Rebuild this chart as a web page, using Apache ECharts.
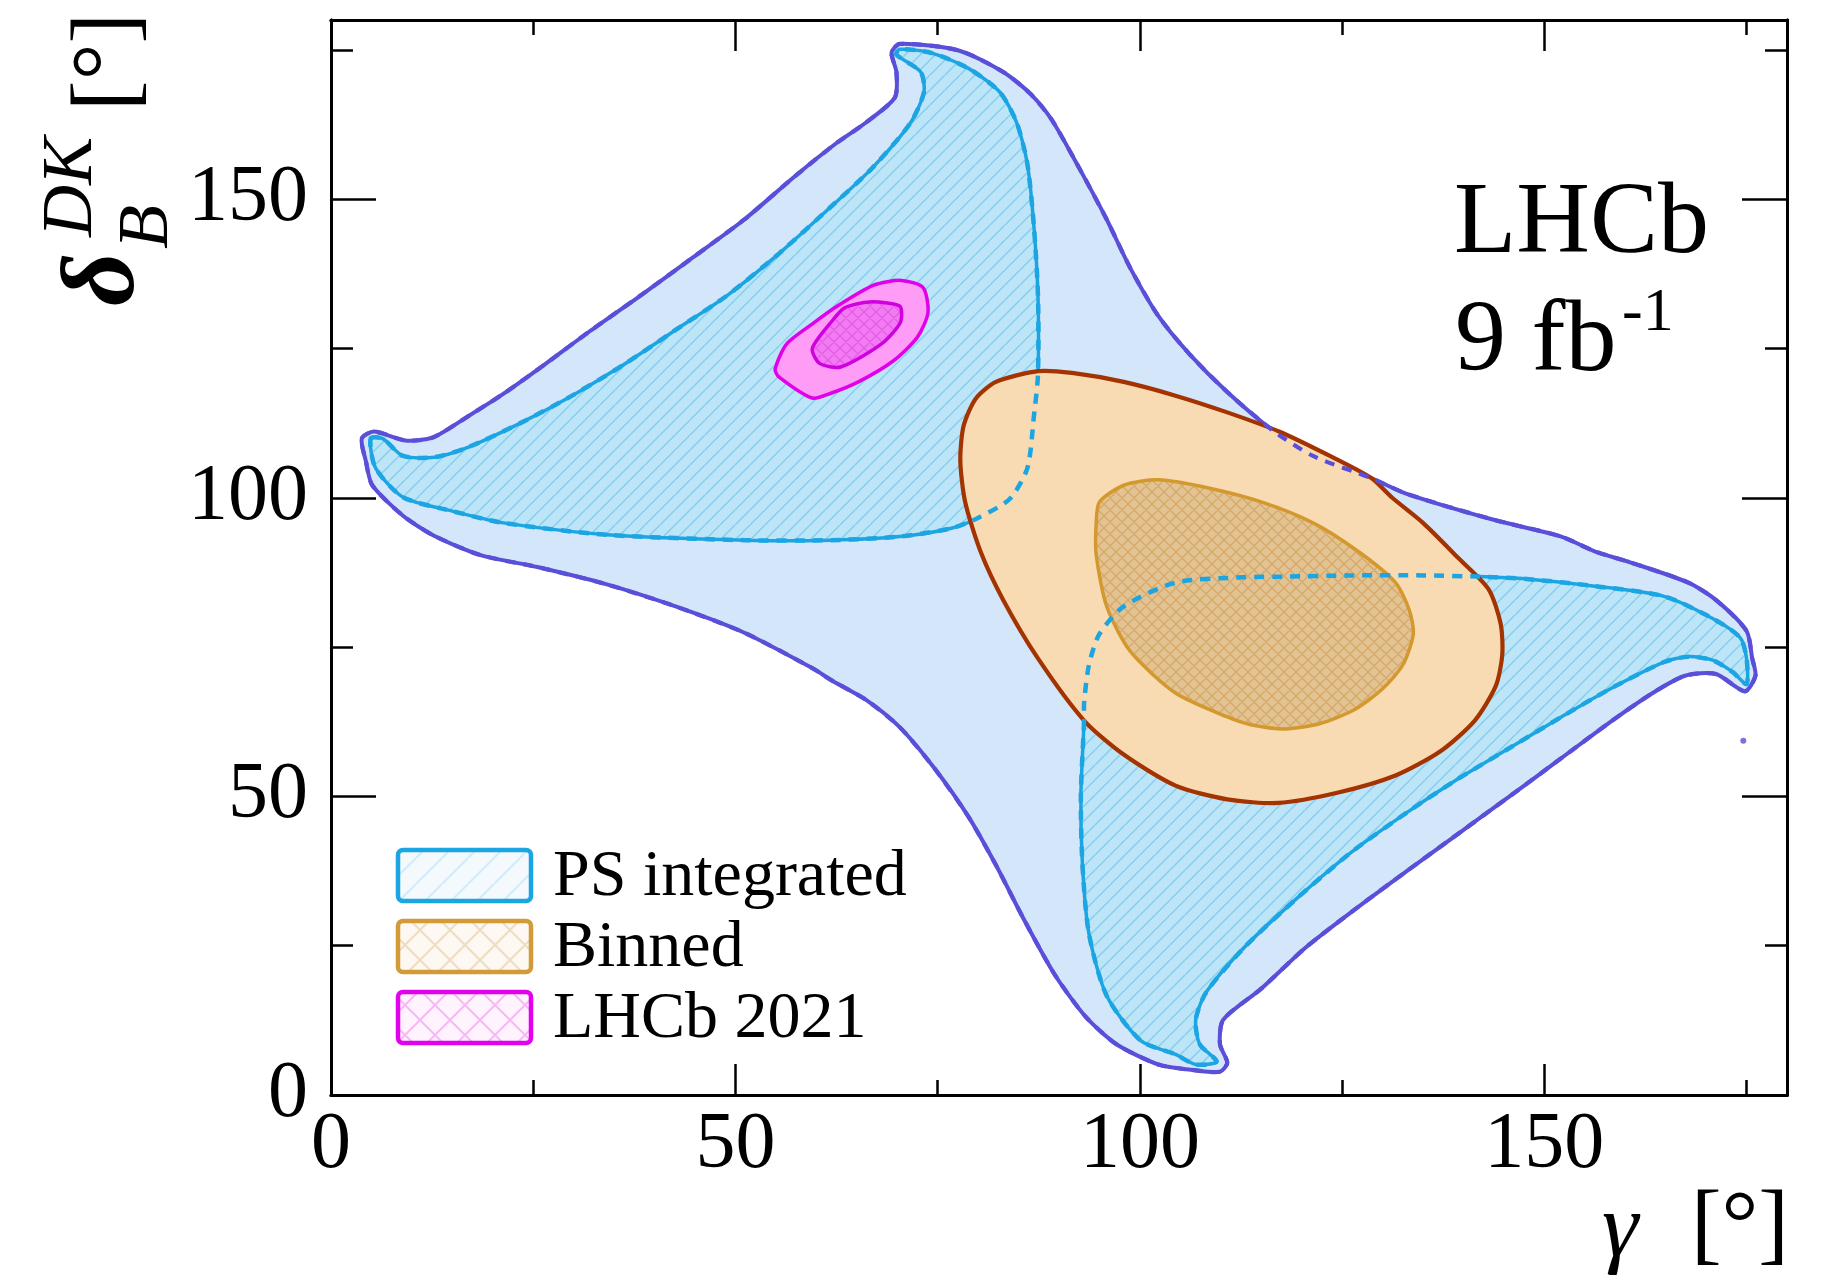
<!DOCTYPE html>
<html>
<head>
<meta charset="utf-8">
<title>gamma vs delta_B^DK contours</title>
<script src="https://cdn.jsdelivr.net/npm/echarts@6/dist/echarts.min.js"></script>
<style>
  html, body { margin: 0; padding: 0; background: #fff; }
  #chart { width: 1834px; height: 1286px; }
</style>
</head>
<body>
<div id="chart"></div>
<script>
// ---- Axis ticks ----
const xMajorTicks = [0, 50, 100, 150];
const yMajorTicks = [0, 50, 100, 150];

// ---- PS integrated, 2 sigma region (gamma [deg], delta_B^DK [deg]) ----
const psOuter = [
  [3.8,109.9],[5.3,111.1],[9.2,109.6],[12.6,110.1],[17.0,113.7],[21.3,117.4],[26.4,122.3],
  [31.9,127.8],[38.3,133.9],[44.7,140.2],[51.1,146.6],[57.5,154.0],[62.5,159.4],[66.1,162.8],
  [69.7,167.0],[69.9,171.3],[69.3,174.5],[70.3,176.0],[77.6,174.9],[83.1,171.3],[86.5,167.6],
  [89.1,163.3],[92.5,155.2],[95.9,146.6],[98.8,138.5],[102.3,130.4],[106.1,124.1],[110.8,117.7],
  [116.3,111.4],[121.4,107.0],[128.6,103.3],[132.9,100.7],[143.5,96.4],[152.1,93.5],[156.3,91.0],
  [160.6,89.2],[167.8,85.8],[171.2,82.9],[175.0,77.7],[175.7,73.1],[176.1,70.2],[174.8,67.6],
  [171.2,70.5],[167.4,70.2],[163.5,67.4],[158.4,62.7],[152.1,56.4],[145.7,50.0],[139.3,43.7],
  [132.9,37.4],[126.5,31.0],[120.5,24.7],[115.0,17.8],[110.3,12.6],[109.9,8.5],[110.8,5.4],
  [109.9,3.9],[106.5,4.2],[102.3,5.1],[97.1,8.5],[93.3,13.1],[89.5,20.1],[85.7,29.3],[82.2,38.5],
  [78.8,46.6],[74.6,54.7],[70.3,61.6],[66.1,66.2],[61.8,69.5],[59.6,71.4],[51.1,77.4],[42.6,81.8],
  [34.1,85.5],[25.5,88.4],[18.5,90.4],[12.8,93.6],[8.9,97.0],[5.1,102.1],[4.3,106.2]
];
// isolated speck of the 2 sigma region
const psOuterSpeck = [[174.6, 59.3]];

// ---- PS integrated, 1 sigma regions ----
const psInnerUpper = [
  [4.9,109.9],[6.4,109.9],[8.9,107.0],[12.8,106.8],[17.0,108.5],[23.4,112.5],[29.8,117.1],
  [36.2,122.3],[42.6,128.1],[49.0,133.9],[55.3,140.8],[61.7,148.6],[66.9,155.2],[71.6,162.7],
  [73.3,167.9],[72.9,171.3],[69.9,174.2],[70.3,175.1],[74.2,174.5],[78.8,171.9],[82.7,167.9],
  [84.8,162.7],[86.1,155.8],[86.9,145.4],[87.4,133.9],[87.4,120.6],[86.9,113.7],[86.1,105.0],
  [83.9,99.8],[80.1,96.7],[76.7,94.9],[70.3,93.5],[61.8,92.9],[51.1,92.9],[34.1,93.8],
  [21.3,95.8],[14.9,97.8],[8.9,100.1],[5.5,105.0]
];
const psInnerLower = [
  [93.1,62.7],[92.7,50.0],[92.9,38.5],[93.7,27.0],[95.9,16.6],[100.1,9.1],[104.4,6.8],
  [106.9,5.1],[109.5,5.6],[107.4,8.5],[106.9,12.6],[108.2,17.2],[112.9,24.7],[119.3,32.8],
  [126.0,40.5],[132.9,47.2],[139.3,52.9],[145.7,58.1],[152.1,63.3],[158.4,68.2],[164.8,72.5],
  [167.8,73.4],[170.8,72.8],[173.3,70.8],[175.0,68.8],[175.0,73.1],[174.2,76.6],[170.8,79.8],
  [164.8,83.5],[156.3,85.2],[147.8,86.4],[141.8,86.8],[135.0,87.0],[126.5,87.0],[118.0,86.8],
  [112.9,86.7],[104.4,85.8],[98.0,81.8],[95.0,77.2],[93.7,72.0],[93.1,65.6]
];

// ---- Binned, 2 sigma and 1 sigma ----
const binnedOuter = [
  [77.8,106.2],[78.2,112.0],[79.7,116.6],[82.2,119.4],[87.4,121.2],[91.6,120.9],[98.0,119.4],
  [104.4,117.1],[110.8,114.3],[117.2,111.1],[123.5,107.0],[128.6,103.3],[131.2,100.0],
  [135.0,95.8],[139.3,90.0],[143.1,84.7],[144.6,78.9],[144.8,73.7],[144.0,68.5],[141.4,62.7],
  [137.2,57.6],[131.6,53.5],[124.4,50.6],[117.1,48.9],[110.8,49.5],[104.4,51.8],[98.0,57.0],
  [93.1,62.7],[87.4,73.1],[83.1,82.9],[80.3,91.0],[78.4,99.3]
];
const binnedInner = [
  [94.6,95.8],[95.0,99.3],[98.0,102.1],[102.3,103.0],[108.6,101.6],[115.0,99.3],[121.4,95.8],
  [127.0,91.0],[131.6,85.8],[133.3,81.2],[133.8,77.2],[132.5,72.0],[129.9,67.9],[126.5,64.5],
  [122.3,62.2],[118.0,61.3],[113.7,62.0],[110.8,63.3],[104.4,67.3],[98.8,74.3],[95.9,81.8],
  [94.6,90.4]
];

// ---- LHCb 2021, 2 sigma and 1 sigma ----
const lhcb2021Outer = [
  [59.5,116.7],[55.4,120.2],[54.9,121.5],[56.3,125.7],[59.6,129.2],[62.6,132.1],[67.1,135.6],
  [70.5,136.4],[73.2,135.2],[73.8,131.0],[72.5,126.9],[69.5,122.9],[65.2,119.4],[61.8,117.5]
];
const lhcb2021Inner = [
  [60.4,122.5],[59.5,125.0],[61.7,129.2],[63.5,131.8],[66.6,132.8],[70.3,132.1],[70.4,129.4],
  [68.1,125.8],[63.0,121.9]
];

const legendNames = ['PS integrated', 'Binned', 'LHCb 2021'];

// ---- Styling ----
const FONT = '"Liberation Serif", "Times New Roman", serif';
const C = {
  psOuterFill: '#d4e6fa', psOuterLine: '#5a4fd8',
  psInnerFill: '#bce5f8', psInnerHatch: '#89cdee', psInnerLine: '#1ba5e2',
  binOuterFill: '#f9dbb3', binOuterLine: '#a33300',
  binInnerFill: '#e2c393', binInnerHatch: '#d8a866', binInnerLine: '#d3992f',
  pinkOuterFill: '#ff9df6', pinkOuterLine: '#e000ea',
  pinkInnerFill: '#f27af2', pinkInnerHatch: '#e35ae3', pinkInnerLine: '#d000e0'
};

// Tiled hatch / cross-hatch fill
function hatch(bg, line, size, lw, cross) {
  const cv = document.createElement('canvas');
  cv.width = size; cv.height = size;
  const g = cv.getContext('2d');
  g.fillStyle = bg; g.fillRect(0, 0, size, size);
  g.strokeStyle = line; g.lineWidth = lw;
  g.beginPath();
  for (const o of [-size, 0, size]) { g.moveTo(o, size); g.lineTo(o + size, 0); }
  if (cross) for (const o of [-size, 0, size]) { g.moveTo(o, 0); g.lineTo(o + size, size); }
  g.stroke();
  return { image: cv, repeat: 'repeat' };
}

const SMOOTH = 0.25;

function region(name, pts, z, style) {
  return {
    type: 'custom', name, z, silent: true,
    xAxisIndex: 0, yAxisIndex: 0,
    data: pts, encode: { x: 0, y: 1 },
    renderItem: function (params, api) {
      if (params.dataIndex !== 0) return null;
      const points = pts.map(p => api.coord(p));
      return { type: 'polygon', shape: { points, smooth: SMOOTH }, style };
    }
  };
}
function dashedOutline(name, pts, z, color, width) {
  return {
    type: 'custom', name, z, silent: true,
    xAxisIndex: 0, yAxisIndex: 0,
    data: pts, encode: { x: 0, y: 1 },
    renderItem: function (params, api) {
      if (params.dataIndex !== 0) return null;
      const points = pts.map(p => api.coord(p));
      return { type: 'polygon', shape: { points, smooth: SMOOTH },
        style: { fill: 'none', stroke: color, lineWidth: width, lineDash: [10, 8] } };
    }
  };
}

const series = [
  region('PS 2s', psOuter, 1, { fill: C.psOuterFill, stroke: C.psOuterLine, lineWidth: 4, lineJoin: 'round' }),
  region('PS 1s a', psInnerUpper, 2, { fill: hatch(C.psInnerFill, C.psInnerHatch, 15, 1.5, false), stroke: C.psInnerLine, lineWidth: 3.5, lineJoin: 'round' }),
  region('PS 1s b', psInnerLower, 2, { fill: hatch(C.psInnerFill, C.psInnerHatch, 15, 1.5, false), stroke: C.psInnerLine, lineWidth: 3.5, lineJoin: 'round' }),
  region('LHCb 2021 2s', lhcb2021Outer, 3, { fill: C.pinkOuterFill, stroke: C.pinkOuterLine, lineWidth: 3.5, lineJoin: 'round' }),
  region('LHCb 2021 1s', lhcb2021Inner, 4, { fill: hatch(C.pinkInnerFill, C.pinkInnerHatch, 12, 1.2, true), stroke: C.pinkInnerLine, lineWidth: 3.5, lineJoin: 'round' }),
  region('Binned 2s', binnedOuter, 5, { fill: C.binOuterFill, stroke: C.binOuterLine, lineWidth: 4.2, lineJoin: 'round' }),
  region('Binned 1s', binnedInner, 6, { fill: hatch(C.binInnerFill, C.binInnerHatch, 12, 1.3, true), stroke: C.binInnerLine, lineWidth: 3.5, lineJoin: 'round' }),
  dashedOutline('PS 2s dashed', psOuter, 7, C.psOuterLine, 4.2),
  dashedOutline('PS 1s a dashed', psInnerUpper, 7, C.psInnerLine, 4.5),
  dashedOutline('PS 1s b dashed', psInnerLower, 7, C.psInnerLine, 4.5),
  {
    type: 'scatter', name: 'PS 2s speck', z: 7, silent: true,
    data: psOuterSpeck, symbolSize: 6, itemStyle: { color: C.psOuterLine }
  }
];

// ---- Axes: major + minor ticks on all four sides ----
const tickLine = { color: '#000', width: 2.5 };
function xAx(position, interval, len, labels) {
  return {
    type: 'value', min: 0, max: 180, interval, position,
    axisLine: { show: true, onZero: false, lineStyle: { color: '#000', width: 3 } },
    axisTick: { show: true, inside: true, length: len, lineStyle: tickLine },
    axisLabel: labels ? {
      show: true, margin: 11, fontSize: 80, fontFamily: FONT, color: '#000',
      showMaxLabel: false,
      formatter: v => (xMajorTicks.indexOf(v) >= 0 ? String(v) : '')
    } : { show: false },
    splitLine: { show: false }
  };
}
function yAx(position, interval, len, labels) {
  return {
    type: 'value', min: 0, max: 180, interval, position,
    axisLine: { show: true, onZero: false, lineStyle: { color: '#000', width: 3 } },
    axisTick: { show: true, inside: true, length: len, lineStyle: tickLine },
    axisLabel: labels ? {
      show: true, margin: 23, fontSize: 80, fontFamily: FONT, color: '#000',
      showMaxLabel: false,
      formatter: v => (yMajorTicks.indexOf(v) >= 0 ? String(v) : '')
    } : { show: false },
    splitLine: { show: false }
  };
}

// ---- Legend, titles and annotations ----
const legendFills = [
  { fill: hatch('#f3f9fd', '#d3ebf8', 26, 2, false), stroke: '#1ba5e2' },
  { fill: hatch('#fdf8f1', '#f0dcc2', 30, 2, true), stroke: '#d39a38' },
  { fill: hatch('#fff3fe', '#f8b8f6', 30, 2, true), stroke: '#e200ef' }
];
const legendY = [850, 921, 992];
const graphics = [];
legendNames.forEach((name, i) => {
  graphics.push({
    type: 'rect', z: 100,
    shape: { x: 398, y: legendY[i], width: 133, height: 51, r: 5 },
    style: { fill: legendFills[i].fill, stroke: legendFills[i].stroke, lineWidth: 4.5 }
  });
  graphics.push({
    type: 'text', z: 100, x: 553, y: legendY[i] + 28,
    style: { text: name, fontSize: 66, fontFamily: FONT, fill: '#000', align: 'left', verticalAlign: 'middle' }
  });
});
graphics.push(
  { type: 'text', z: 100, x: 1454, y: 225,
    style: { text: 'LHCb', fontSize: 102, fontFamily: FONT, fill: '#000', align: 'left', verticalAlign: 'middle' } },
  { type: 'text', z: 100, x: 1455, y: 343,
    style: { text: '9 fb', fontSize: 102, fontFamily: FONT, fill: '#000', align: 'left', verticalAlign: 'middle' } },
  { type: 'text', z: 100, x: 1622, y: 314,
    style: { text: '-1', fontSize: 62, fontFamily: FONT, fill: '#000', align: 'left', verticalAlign: 'middle' } },
  // x-axis title
  { type: 'text', z: 100, x: 1602, y: 1232,
    style: { text: 'γ', fontSize: 92, fontStyle: 'italic', fontFamily: FONT, fill: '#000', align: 'left', verticalAlign: 'middle' } },
  { type: 'text', z: 100, x: 1789, y: 1229,
    style: { text: '[°]', fontSize: 92, fontFamily: FONT, fill: '#000', align: 'right', verticalAlign: 'middle' } },
  // y-axis title, rotated
  { type: 'group', x: 138, y: 306, rotation: Math.PI / 2, z: 100,
    children: [
      { type: 'text', x: 0, y: -32,
        style: { text: 'δ', fontSize: 104, fontStyle: 'italic', fontWeight: 'bold', fontFamily: FONT, fill: '#000', align: 'left', verticalAlign: 'middle' } },
      { type: 'text', x: 57, y: 10,
        style: { text: 'B', fontSize: 72, fontStyle: 'italic', fontFamily: FONT, fill: '#000', align: 'left', verticalAlign: 'middle' } },
      { type: 'text', x: 69, y: -66,
        style: { text: 'DK', fontSize: 72, fontStyle: 'italic', fontFamily: FONT, fill: '#000', align: 'left', verticalAlign: 'middle' } },
      { type: 'text', x: 195, y: -28,
        style: { text: '[°]', fontSize: 92, fontFamily: FONT, fill: '#000', align: 'left', verticalAlign: 'middle' } }
    ] }
);

const chart = echarts.init(document.getElementById('chart'), null, { renderer: 'canvas' });
chart.setOption({
  animation: false,
  backgroundColor: '#ffffff',
  grid: { left: 331, top: 20, width: 1456, height: 1075, containLabel: false },
  xAxis: [
    xAx('bottom', 50, 31, true),
    xAx('bottom', 25, 15, false),
    xAx('top', 50, 31, false),
    xAx('top', 25, 15, false)
  ],
  yAxis: [
    yAx('left', 50, 45, true),
    yAx('left', 25, 22, false),
    yAx('right', 50, 45, false),
    yAx('right', 25, 22, false)
  ],
  series,
  graphic: { elements: graphics }
});
</script>
</body>
</html>
